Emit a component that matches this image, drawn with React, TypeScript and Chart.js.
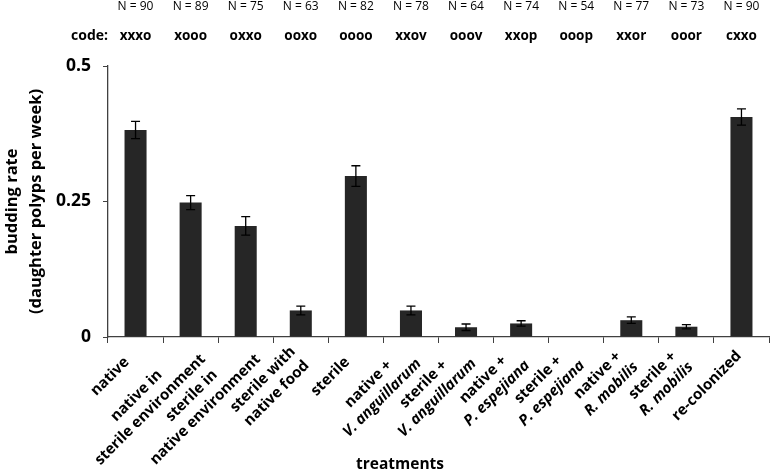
import React, { useEffect, useRef } from 'react';
import { Chart, registerables } from 'chart.js';

Chart.register(...registerables);

const categoryLines: string[][] = [
  ['native'],
  ['native in', 'sterile environment'],
  ['sterile in', 'native environment'],
  ['sterile with', 'native food'],
  ['sterile'],
  ['native +', 'V. anguillarum'],
  ['sterile +', 'V. anguillarum'],
  ['native +', 'P. espejiana'],
  ['sterile +', 'P. espejiana'],
  ['native +', 'R. mobilis'],
  ['sterile +', 'R. mobilis'],
  ['re-colonized'],
];
const italicLastLine: boolean[] = [false, false, false, false, false, true, true, true, true, true, true, false];
const buddingRate: number[] = [0.382, 0.248, 0.205, 0.049, 0.297, 0.049, 0.018, 0.025, 0, 0.031, 0.019, 0.406];
const errorHalf: number[] = [0.016, 0.013, 0.017, 0.008, 0.019, 0.008, 0.006, 0.005, 0, 0.006, 0.004, 0.015];
const sampleSizes: number[] = [90, 89, 75, 63, 82, 78, 64, 74, 54, 77, 73, 90];
const codes: string[] = ['xxxo', 'xooo', 'oxxo', 'ooxo', 'oooo', 'xxov', 'ooov', 'xxop', 'ooop', 'xxor', 'ooor', 'cxxo'];
const yTickValues: number[] = [0, 0.25, 0.5];
const yTickLabels: string[] = ['0', '0.25', '0.5'];
const yTitle: string[] = ['budding rate', '(daughter polyps per week)'];
const xTitle = 'treatments';

const FONT = '"Open Sans", "Noto Sans", sans-serif';

const overlayPlugin = {
  id: 'overlay',
  afterDatasetsDraw(chart: any) {
    const ctx = chart.ctx;
    const ys = chart.scales.y;
    const meta = chart.getDatasetMeta(0);
    ctx.save();
    ctx.strokeStyle = '#000';
    ctx.lineWidth = 1.3;
    buddingRate.forEach((v, i) => {
      const e = errorHalf[i];
      if (!e) return;
      const x = meta.data[i].x;
      const yt = ys.getPixelForValue(v + e);
      const yb = ys.getPixelForValue(v - e);
      ctx.beginPath();
      ctx.moveTo(x, yt);
      ctx.lineTo(x, yb);
      ctx.moveTo(x - 4.5, yt);
      ctx.lineTo(x + 4.5, yt);
      ctx.moveTo(x - 4.5, yb);
      ctx.lineTo(x + 4.5, yb);
      ctx.stroke();
    });
    ctx.restore();
  },
  afterDraw(chart: any) {
    const ctx = chart.ctx;
    const xs = chart.scales.x;
    const area = chart.chartArea;
    ctx.save();
    ctx.fillStyle = '#000';
    ctx.textAlign = 'center';
    ctx.textBaseline = 'middle';
    sampleSizes.forEach((n, i) => {
      const x = xs.getPixelForValue(i);
      ctx.font = `12px ${FONT}`;
      ctx.fillText(`N = ${n}`, x, 7);
      ctx.font = `bold 13.5px ${FONT}`;
      ctx.fillText(codes[i], x, 36);
    });
    ctx.textAlign = 'right';
    ctx.font = `bold 14px ${FONT}`;
    ctx.fillText('code:', area.left, 36);

    // rotated (-45°) category labels, lines centred in their block
    const c = Math.SQRT1_2;
    const lh = 19.5;
    const size = 15;
    categoryLines.forEach((lines, i) => {
      const xc = xs.getPixelForValue(i);
      const y0 = area.bottom;
      const fonts = lines.map((_, j) => {
        const italic = italicLastLine[i] && j === lines.length - 1;
        return `${italic ? 'italic ' : ''}bold ${size}px ${FONT}`;
      });
      let L = 0;
      lines.forEach((ln, j) => {
        ctx.font = fonts[j];
        L = Math.max(L, ctx.measureText(ln).width);
      });
      const n = lines.length;
      const along = -46 - 0.36 * Math.max(0, L - 55);
      const perp = 10 + (n - 1) * 3;
      ctx.save();
      ctx.translate(xc + (along + perp) * c, y0 + (perp - along) * c);
      ctx.rotate(-Math.PI / 4);
      ctx.textAlign = 'center';
      ctx.textBaseline = 'middle';
      lines.forEach((ln, j) => {
        ctx.font = fonts[j];
        ctx.fillText(ln, 0, (j - (n - 1) / 2) * lh);
      });
      ctx.restore();
    });

    ctx.textAlign = 'center';
    ctx.textBaseline = 'middle';
    ctx.font = `bold 15.5px ${FONT}`;
    ctx.fillText(xTitle, 400, 465);
    ctx.restore();
  },
};

export default function App() {
  const ref = useRef<HTMLCanvasElement | null>(null);
  useEffect(() => {
    if (!ref.current) return;
    const chart = new Chart(ref.current, {
      type: 'bar',
      data: {
        labels: categoryLines.map((l) => l.join(' ')),
        datasets: [
          {
            data: buddingRate,
            backgroundColor: '#262626',
            borderWidth: 0,
            barPercentage: 0.4,
            categoryPercentage: 1,
          },
        ],
      },
      options: {
        animation: false,
        responsive: false,
        devicePixelRatio: 1,
        layout: { padding: { top: 66, right: 2, left: 0, bottom: 0 } },
        plugins: { legend: { display: false }, tooltip: { enabled: false } },
        scales: {
          x: {
            type: 'category',
            offset: true,
            grid: { offset: true, drawOnChartArea: false, drawTicks: true, tickLength: 6, color: '#404040', lineWidth: 1 },
            border: { display: true, color: '#404040', width: 1.3 },
            ticks: { display: false },
            afterFit: (s: any) => {
              s.height = 137;
            },
          },
          y: {
            min: 0,
            max: 0.5,
            afterBuildTicks: (s: any) => {
              s.ticks = yTickValues.map((v) => ({ value: v }));
            },
            ticks: {
              callback: (v: any) => {
                const k = yTickValues.indexOf(Number(v));
                return k >= 0 ? yTickLabels[k] : '';
              },
              font: { family: FONT, size: 17.5, weight: 'bold' },
              color: '#000',
              padding: 12,
            },
            grid: { drawOnChartArea: false, drawTicks: true, tickLength: 5, color: '#404040', lineWidth: 1 },
            border: { display: true, color: '#404040', width: 1.3 },
            title: {
              display: true,
              text: yTitle,
              font: { family: FONT, size: 16.5, weight: 'bold', lineHeight: 1.45 },
              color: '#000',
              padding: { top: 0, bottom: 0 },
            },
            afterFit: (s: any) => {
              s.width = 108;
            },
          },
        },
      },
      plugins: [overlayPlugin],
    });
    return () => chart.destroy();
  }, []);
  return (
    <div style={{ position: 'absolute', left: 0, top: 0, width: 771, height: 474, background: '#fff' }}>
      <canvas ref={ref} width={771} height={474} />
    </div>
  );
}
